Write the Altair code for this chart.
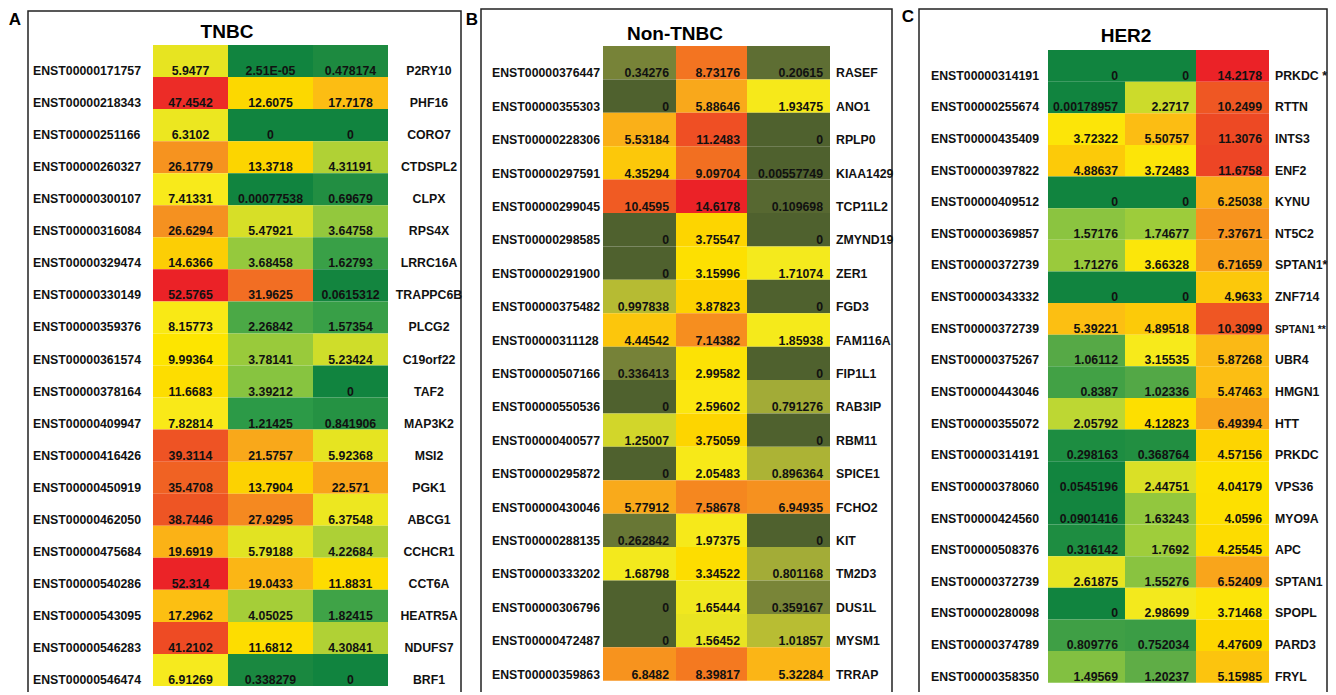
import altair as alt
import pandas as pd

# ---------------- data ----------------
ids_a = ["ENST00000171757","ENST00000218343","ENST00000251166","ENST00000260327","ENST00000300107",
         "ENST00000316084","ENST00000329474","ENST00000330149","ENST00000359376","ENST00000361574",
         "ENST00000378164","ENST00000409947","ENST00000416426","ENST00000450919","ENST00000462050",
         "ENST00000475684","ENST00000540286","ENST00000543095","ENST00000546283","ENST00000546474"]
genes_a = ["P2RY10","PHF16","CORO7","CTDSPL2","CLPX","RPS4X","LRRC16A","TRAPPC6B","PLCG2","C19orf22",
           "TAF2","MAP3K2","MSI2","PGK1","ABCG1","CCHCR1","CCT6A","HEATR5A","NDUFS7","BRF1"]
a1 = [5.9477,47.4542,6.3102,26.1779,7.41331,26.6294,14.6366,52.5765,8.15773,9.99364,
      11.6683,7.82814,39.3114,35.4708,38.7446,19.6919,52.314,17.2962,41.2102,6.91269]
a2 = [2.51e-05,12.6075,0,13.3718,0.00077538,5.47921,3.68458,31.9625,2.26842,3.78141,
      3.39212,1.21425,21.5757,13.7904,27.9295,5.79188,19.0433,4.05025,11.6812,0.338279]
a3 = [0.478174,17.7178,0,4.31191,0.69679,3.64758,1.62793,0.0615312,1.57354,5.23424,
      0,0.841906,5.92368,22.571,6.37548,4.22684,11.8831,1.82415,4.30841,0]

ids_b = ["ENST00000376447","ENST00000355303","ENST00000228306","ENST00000297591","ENST00000299045",
         "ENST00000298585","ENST00000291900","ENST00000375482","ENST00000311128","ENST00000507166",
         "ENST00000550536","ENST00000400577","ENST00000295872","ENST00000430046","ENST00000288135",
         "ENST00000333202","ENST00000306796","ENST00000472487","ENST00000359863"]
genes_b = ["RASEF","ANO1","RPLP0","KIAA1429","TCP11L2","ZMYND19","ZER1","FGD3","FAM116A","FIP1L1",
           "RAB3IP","RBM11","SPICE1","FCHO2","KIT","TM2D3","DUS1L","MYSM1","TRRAP"]
b1 = [0.34276,0,5.53184,4.35294,10.4595,0,0,0.997838,4.44542,0.336413,
      0,1.25007,0,5.77912,0.262842,1.68798,0,0,6.8482]
b2 = [8.73176,5.88646,11.2483,9.09704,14.6178,3.75547,3.15996,3.87823,7.14382,2.99582,
      2.59602,3.75059,2.05483,7.58678,1.97375,3.34522,1.65444,1.56452,8.39817]
b3 = [0.20615,1.93475,0,0.00557749,0.109698,0,1.71074,0,1.85938,0,
      0.791276,0,0.896364,6.94935,0,0.801168,0.359167,1.01857,5.32284]

ids_c = ["ENST00000314191","ENST00000255674","ENST00000435409","ENST00000397822","ENST00000409512",
         "ENST00000369857","ENST00000372739","ENST00000343332","ENST00000372739","ENST00000375267",
         "ENST00000443046","ENST00000355072","ENST00000314191","ENST00000378060","ENST00000424560",
         "ENST00000508376","ENST00000372739","ENST00000280098","ENST00000374789","ENST00000358350"]
genes_c = ["PRKDC *","RTTN","INTS3","ENF2","KYNU","NT5C2","SPTAN1*","ZNF714","SPTAN1 **","UBR4",
           "HMGN1","HTT","PRKDC","VPS36","MYO9A","APC","SPTAN1","SPOPL","PARD3","FRYL"]
c1 = [0,0.00178957,3.72322,4.88637,0,1.57176,1.71276,0,5.39221,1.06112,
      0.8387,2.05792,0.298163,0.0545196,0.0901416,0.316142,2.61875,0,0.809776,1.49569]
c2 = [0,2.2717,5.50757,3.72483,0,1.74677,3.66328,0,4.89518,3.15535,
      1.02336,4.12823,0.368764,2.44751,1.63243,1.7692,1.55276,2.98699,0.752034,1.20237]
c3 = [14.2178,10.2499,11.3076,11.6758,6.25038,7.37671,6.71659,4.9633,10.3099,5.87268,
      5.47463,6.49394,4.57156,4.04179,4.0596,4.25545,6.52409,3.71468,4.47609,5.15985]

# colour stops of each panel's scale
dom_a = [0, 0.5, 1.2, 2.3, 3.5, 4.3, 5.9, 7, 10, 13.5, 17.5, 22, 27, 32, 39, 47, 52.6]
rng_a = ["#11843f","#1e8a40","#2c9a47","#4ca946","#8dc63f","#b0d135","#e6e421","#f7eb1e","#fde500",
         "#fcd400","#fcbe13","#f9a61b","#f58f20","#f26e23","#ee5424","#ec2d27","#eb2227"]
dom_b = [0, 0.21, 0.34, 0.8, 1.0, 1.25, 1.7, 2.5, 3.2, 3.8, 4.4, 5.3, 5.8, 7, 8.7, 11, 14.62]
rng_b = ["#4f612e","#5e6e33","#778338","#a3ac37","#b6bb33","#d2d62a","#f4ea1d","#fbe812","#fde000",
         "#fdd400","#fcc70b","#fbb616","#f9aa1b","#f6901f","#f37421","#ef5224","#eb2227"]
dom_c = [0, 0.1, 0.33, 0.8, 1.05, 1.2, 1.6, 2.06, 2.27, 2.6, 3.1, 3.9, 4.5, 5.0, 5.5, 5.9, 6.5, 7.4, 10.5, 14.22]
rng_c = ["#11843f","#13853f","#1f8e41","#3e9f45","#55a946","#5fad46","#8fc63f","#bdd733","#ccdb2b",
         "#e6e521","#f7ea1c","#fde400","#fdd600","#fcc70c","#fcbd13","#fbb915","#f9a51b","#f7931e",
         "#ee5124","#eb2227"]

FONT = "Liberation Sans"


def fmt(v):
    return "0" if v == 0 else str(v).upper()


def panel(ids, genes, cols, col_edges, row_range, dom, rng, centered,
          id_x, gene_x, box, title, title_xy, letter, letter_xy):
    n = len(ids)
    recs = []
    for ci, series in enumerate(cols):
        for r, v in enumerate(series):
            recs.append({"row": r, "col": ci, "col_end": ci + 1,
                         "tx": ci + 0.5 if centered else ci + 1,
                         "value": float(v), "label": fmt(v)})
    df = pd.DataFrame(recs)
    lab = pd.DataFrame({"row": list(range(n)), "id": ids, "gene": genes})

    xs = alt.Scale(domain=[0, 1, 2, 3], range=col_edges, nice=False, zero=False)
    ys = alt.Scale(type="band", domain=list(range(n)), range=row_range,
                   paddingInner=0, paddingOuter=0)

    boxl = alt.Chart(pd.DataFrame({"k": [0]})).mark_rect(
        fillOpacity=0, stroke="#222222", strokeWidth=1.5
    ).encode(x=alt.value(box[0]), x2=alt.value(box[1]),
             y=alt.value(box[2]), y2=alt.value(box[3]))

    cells = alt.Chart(df).mark_rect().encode(
        x=alt.X("col:Q", scale=xs, axis=None),
        x2="col_end:Q",
        y=alt.Y("row:O", scale=ys, axis=None),
        color=alt.Color("value:Q", scale=alt.Scale(domain=dom, range=rng), legend=None),
    )

    vals = alt.Chart(df).mark_text(
        align="center" if centered else "right", baseline="alphabetic",
        dx=0 if centered else -7, dy=-2,
        font=FONT, fontSize=12.3, fontWeight="bold", color="#111111"
    ).encode(
        x=alt.X("tx:Q", scale=xs, axis=None),
        y=alt.Y("row:O", scale=ys, axis=None, bandPosition=1),
        text="label:N",
    )

    idl = alt.Chart(lab).mark_text(
        align="left", baseline="alphabetic", dy=-2,
        font=FONT, fontSize=12.3, fontWeight="bold", color="#111111"
    ).encode(
        x=alt.value(id_x),
        y=alt.Y("row:O", scale=ys, axis=None, bandPosition=1),
        text="id:N",
    )

    genel = alt.Chart(lab).mark_text(
        align="center" if centered else "left", baseline="alphabetic", dy=-2,
        font=FONT, fontWeight="bold", color="#111111"
    ).encode(
        x=alt.value(gene_x),
        y=alt.Y("row:O", scale=ys, axis=None, bandPosition=1),
        text="gene:N",
        size=alt.condition("length(datum.gene) > 8", alt.value(10.3), alt.value(12.3)),
    )

    ttl = alt.Chart(pd.DataFrame({"t": [title]})).mark_text(
        align="center", baseline="alphabetic", font=FONT, fontSize=19,
        fontWeight="bold", color="#000000"
    ).encode(x=alt.value(title_xy[0]), y=alt.value(title_xy[1]), text="t:N")

    let = alt.Chart(pd.DataFrame({"t": [letter]})).mark_text(
        align="center", baseline="alphabetic", font=FONT, fontSize=17,
        fontWeight="bold", color="#000000"
    ).encode(x=alt.value(letter_xy[0]), y=alt.value(letter_xy[1]), text="t:N")

    return alt.layer(boxl, cells, vals, idl, genel, ttl, let)


pa = panel(ids_a, genes_a, [a1, a2, a3], [145, 220, 305, 380], [37, 678], dom_a, rng_a, True,
           25, 421, (20, 453, 3, 720), "TNBC", (219, 30), "A", (7, 17))
pb = panel(ids_b, genes_b, [b1, b2, b3], [595, 668, 739, 822], [38, 672.7], dom_b, rng_b, False,
           484, 828, (473, 884, 1, 720), "Non-TNBC", (667, 32), "B", (464, 17))
pc = panel(ids_c, genes_c, [c1, c2, c3], [1040, 1117, 1188, 1261], [42, 674.7], dom_c, rng_c, False,
           923, 1267, (911, 1319, 1, 720), "HER2", (1118, 34), "C", (900, 14))

chart = alt.layer(pa, pb, pc).resolve_scale(
    x="independent", y="independent", color="independent"
).properties(
    width=1320, height=684, padding=0,
    autosize=alt.AutoSizeParams(type="none"),
).configure_view(stroke=None)

chart.save("out.html", embed_options={"renderer": "svg", "actions": False})
